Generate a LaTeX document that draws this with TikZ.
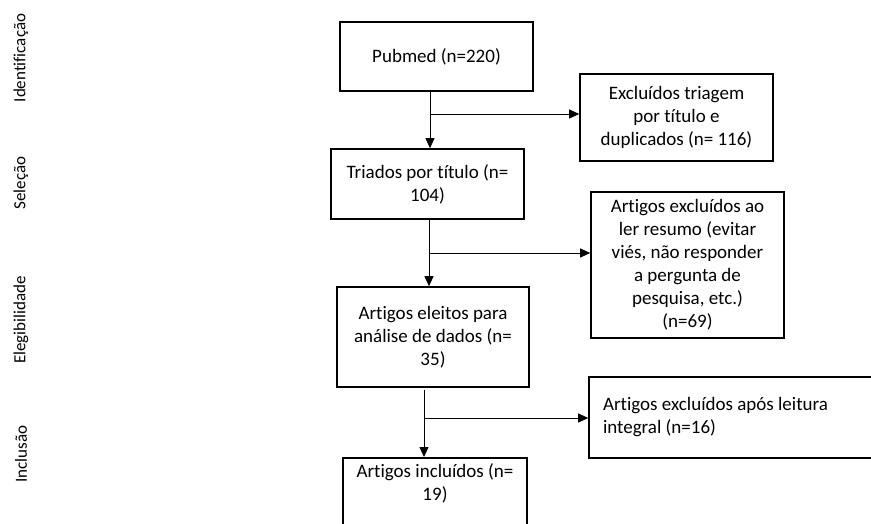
\documentclass[tikz,border=0pt]{standalone}
\usepackage{fontspec}
\setmainfont{Carlito}[Ligatures=NoCommon]
\usetikzlibrary{arrows.meta}
\tikzstyle{stage}=[rotate=90,font=\fontsize{17}{20}\selectfont]
\tikzstyle{box}=[draw,line width=1.6pt,align=center,inner sep=0pt,font=\fontsize{19}{23}\selectfont]
\tikzstyle{left box}=[box,align=flush left,inner xsep=14pt,text width=272pt]
\tikzstyle{flow}=[draw,line width=0.8pt,-{Triangle[length=10pt,width=9pt]}]

\begin{document}
\begin{tikzpicture}[x=1pt,y=-1pt]
    \useasboundingbox (0,0) rectangle (871,523);
    \clip (0,0) rectangle (871,523);

    \foreach \pos/\name/\txt in {{(21,58)/ident/Identificação}, {(21,183)/selec/Seleção},
                                 {(21,320)/elegi/Elegibilidade}, {(21,454)/inclu/Inclusão}}
        \node[stage] (\name) at \pos {\txt};

    \node[box,minimum width=193pt,minimum height=69pt] (pubmed) at (436.5,56.5) {Pubmed (n=220)};
    \node[box,minimum width=193pt,minimum height=87pt] (excl1) at (676.5,117.5)
        {Excluídos triagem\\por título e\\duplicados (n= 116)};
    \node[box,minimum width=193pt,minimum height=70pt] (triados) at (427.5,184)
        {Triados por título (n=\\104)};
    \node[box,minimum width=193pt,minimum height=146pt] (excl2) at (687.5,265)
        {Artigos excluídos ao\\ler resumo (evitar\\viés, não responder\\a pergunta de\\pesquisa, etc.)\\(n=69)};
    \node[box,minimum width=192pt,minimum height=100pt] (eleitos) at (433,337)
        {Artigos eleitos para\\análise de dados (n=\\35)};
    \node[left box,minimum height=81pt] (excl3) at (739,417.5)
        {Artigos excluídos após leitura\\integral (n=16)};
    \node[box,minimum width=184pt,anchor=north,inner ysep=6pt,text depth=60pt] (incluidos) at (435,457)
        {Artigos incluídos (n=\\19)};

    \foreach \src/\dst/\x/\y in {pubmed/triados/430/91, triados/eleitos/429/219, eleitos/incluidos/424/390}
        \path[flow] (\x,\y) -- (\x,\y |- \dst.north);

    \foreach \name/\dst/\x/\y in {b1/excl1/430/114, b2/excl2/429/253, b3/excl3/424/418}
    {
        \coordinate (\name) at (\x,\y);
        \path[flow] (\name) -- (\name -| \dst.west);
    }
\end{tikzpicture}
\end{document}
